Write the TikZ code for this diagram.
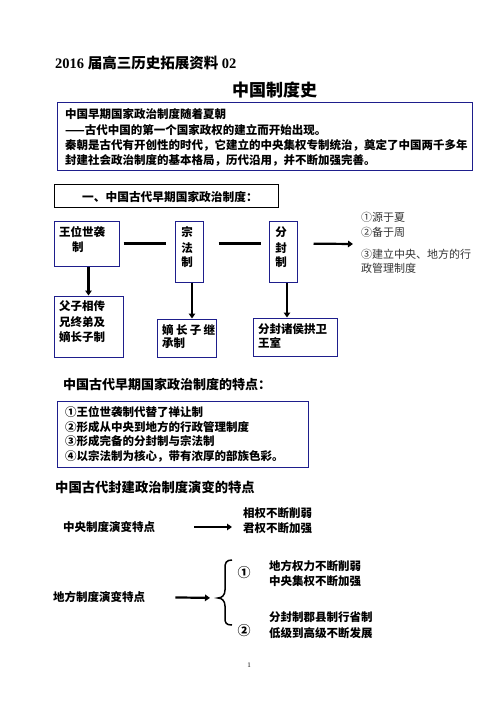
\documentclass[tikz,border=0pt]{standalone}
\usepackage{fontspec}
\setmainfont{Liberation Serif}
\newfontfamily\zh{Noto Sans CJK SC}
\usetikzlibrary{arrows.meta}
\definecolor{boxblue}{RGB}{30,30,140}
\begin{document}
\begin{tikzpicture}[x=1pt,y=-1pt,
  txt/.style={anchor=west,inner sep=0pt,font=\zh\bfseries\fontsize{11.5}{13}\selectfont},
  ctxt/.style={inner sep=0pt,font=\zh\bfseries\fontsize{11.5}{13}\selectfont},
  lt/.style={anchor=west,inner sep=0pt,font=\zh\fontsize{11}{13}\selectfont,text=black!80},
  head/.style={anchor=west,inner sep=0pt,font=\zh\bfseries\fontsize{13}{15}\selectfont},
  bluebox/.style={draw=boxblue,line width=1pt,inner sep=0pt},
  blackbox/.style={draw=black,line width=1pt,inner sep=0pt},
  conn/.style={line width=2.2pt},
  arr/.style={line width=2.2pt,-{Triangle[length=5pt,width=6.5pt]}},
]
\useasboundingbox[fill=white] (0,0) rectangle (500,706);

% title
\node[anchor=west,inner sep=0pt,font=\fontsize{14.5}{16}\selectfont\bfseries] (title) at (55,63)
  {2016 {\zh 届高三历史拓展资料} 02};
\node[anchor=west,inner sep=0pt,font=\zh\bfseries\fontsize{17}{19}\selectfont] (maintitle) at (232,90) {中国制度史};

% box 1
\node[bluebox,minimum width=415pt,minimum height=67pt] (b1) at (264.5,136.5) {};
\node[txt] (b1l1) at (65,114) {中国早期国家政治制度随着夏朝};
\node[txt] (b1l2) at (65,130) {——古代中国的第一个国家政权的建立而开始出现。};
\node[txt] (b1l3) at (65,145) {秦朝是古代有开创性的时代，它建立的中央集权专制统治，奠定了中国两千多年};
\node[txt] (b1l4) at (65,160) {封建社会政治制度的基本格局，历代沿用，并不断加强完善。};

% box 2
\node[blackbox,minimum width=224pt,minimum height=23pt] (b2) at (166,195.5) {};
\node[txt,font=\zh\bfseries\fontsize{11.7}{13}\selectfont] (b2t) at (82,197) {一、中国古代早期国家政治制度：};

% system boxes
\node[bluebox,minimum width=65pt,minimum height=45pt] (wang) at (86.5,243.5) {};
\node[txt] (wangt1) at (59,232) {王位世袭};
\node[txt] (wangt2) at (72,247) {制};

\node[bluebox,minimum width=28pt,minimum height=61pt] (zong) at (189,251.5) {};
\node[ctxt] (zong1) at (187,232) {宗};
\node[ctxt] (zong2) at (187,248) {法};
\node[ctxt] (zong3) at (187,262) {制};

\node[bluebox,minimum width=28pt,minimum height=61pt] (fen) at (283,251.5) {};
\node[ctxt] (fen1) at (281,232) {分};
\node[ctxt] (fen2) at (281,248) {封};
\node[ctxt] (fen3) at (281,262) {制};

\node[lt] (r1) at (361,217) {①源于夏};
\node[lt] (r2) at (361,232) {②备于周};
\node[lt] (r3) at (361,254) {③建立中央、地方的行};
\node[lt] (r4) at (361,268) {政管理制度};

\node[bluebox,minimum width=69pt,minimum height=61pt] (fuzi) at (88.5,326.5) {};
\node[txt] (fuzi1) at (59,306) {父子相传};
\node[txt] (fuzi2) at (59,322) {兄终弟及};
\node[txt] (fuzi3) at (59,337) {嫡长子制};

\node[bluebox,minimum width=59pt,minimum height=38pt] (dizhang) at (186.5,338) {};
\node[txt] (dz1) at (162,330) {嫡\hspace{2.3pt}长\hspace{2.3pt}子\hspace{2.3pt}继};
\node[txt] (dz2) at (162,343) {承制};

\node[bluebox,minimum width=84pt,minimum height=38pt] (fenfeng) at (295,337) {};
\node[txt] (ff1) at (258,329) {分封诸侯拱卫};
\node[txt] (ff2) at (258,343) {王室};

% connectors
\draw[conn,shorten <=4pt,shorten >=9pt] (wang.east) -- (wang.east -| zong.west);
\draw[conn,shorten <=15pt,shorten >=8pt] (zong.east |- wang.east) -- (fen.west |- wang.east);
\coordinate (arrowend) at (353,244);
\draw[arr,shorten <=16pt] (fen.east |- wang.east) -- (arrowend);
\draw[arr] (fuzi.north |- wang.south) -- (fuzi.north);
\draw[arr] ([xshift=3pt]zong.south) -- ([xshift=3pt]zong.south |- dizhang.north);
\draw[arr] ([xshift=4pt]fen.south) -- ([xshift=4pt]fen.south |- fenfeng.north);

% features
\node[head] (h1) at (63,384) {中国古代早期国家政治制度的特点：};
\node[bluebox,minimum width=251pt,minimum height=66pt] (b3) at (182.5,434) {};
\node[txt] (b3l1) at (65,412) {①王位世袭制代替了禅让制};
\node[txt] (b3l2) at (65,427) {②形成从中央到地方的行政管理制度};
\node[txt] (b3l3) at (65,441) {③形成完备的分封制与宗法制};
\node[txt] (b3l4) at (65,456) {④以宗法制为核心，带有浓厚的部族色彩。};

% evolution
\node[head,font=\zh\bfseries\fontsize{13.3}{15}\selectfont] (h2) at (55,487) {中国古代封建政治制度演变的特点};
\node[txt] (zy) at (63,527) {中央制度演变特点};
\node[txt] (xq) at (243,513) {相权不断削弱};
\node[txt] (jq) at (243,528) {君权不断加强};
\draw[arr,shorten <=39pt,shorten >=11pt] (zy.east) -- (zy.east -| xq.west);

\node[ctxt,font=\zh\bfseries\fontsize{13}{15}\selectfont] (n1) at (244,573) {①};
\node[txt] (dq1) at (269,566) {地方权力不断削弱};
\node[txt] (dq2) at (269,581) {中央集权不断加强};
\node[txt] (df) at (53,597) {地方制度演变特点};
\node[ctxt,font=\zh\bfseries\fontsize{13}{15}\selectfont] (n2) at (244,631) {②};
\node[txt] (fz1) at (269,617) {分封制郡县制行省制};
\node[txt] (fz2) at (269,633) {低级到高级不断发展};
\coordinate (bracetip) at (216,598);
\draw[arr,shorten <=30pt,shorten >=6pt] (df.east) -- (bracetip);
\draw[line width=1.5pt] (232,560) .. controls (226,560) and (225,563) .. (225,568) -- (225,590)
  .. controls (225,595) and (222,598) .. (218,598)
  .. controls (222,598) and (225,601) .. (225,606) -- (225,618)
  .. controls (225,623) and (226,625) .. (232,625);

\node[inner sep=0pt,font=\fontsize{7}{8}\selectfont] (page) at (249,665) {1};
\end{tikzpicture}
\end{document}
